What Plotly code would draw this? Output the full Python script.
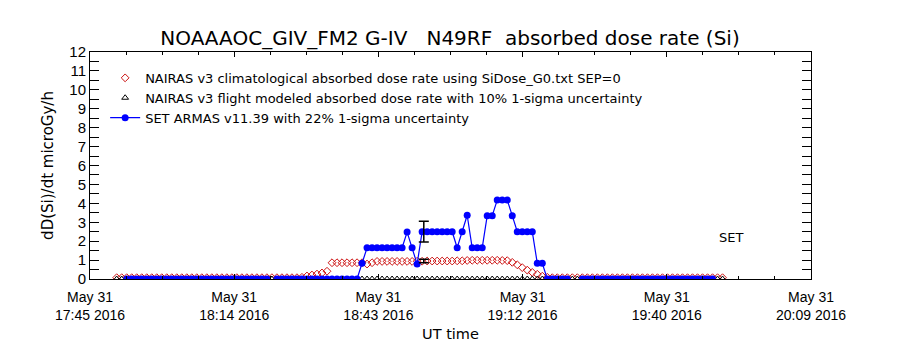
import pandas as pd
import plotly.graph_objects as go

# ---------------- data ----------------
START = "2016-05-31 17:51"
END = "2016-05-31 19:52"
TIMES = pd.date_range(START, END, freq="1min")  # 1-minute samples (122)

NAIRAS_CLIM = [
    0.07, 0.07, 0.07, 0.07, 0.07, 0.07, 0.07, 0.07, 0.07, 0.07,
    0.07, 0.07, 0.07, 0.07, 0.07, 0.07, 0.07, 0.07, 0.07, 0.07,
    0.07, 0.07, 0.07, 0.07, 0.07, 0.07, 0.07, 0.07, 0.07, 0.07,
    0.07, 0.07, 0.07, 0.07, 0.07, 0.07, 0.07,
    0.09, 0.16, 0.21, 0.26, 0.32, 0.41,
    0.86, 0.86, 0.86, 0.86, 0.86, 0.86, 0.86,
    0.79, 0.86,
    0.93, 0.93, 0.93, 0.93, 0.93, 0.93, 0.93, 0.93, 0.94, 0.94,
    0.95, 0.95, 0.95, 0.95, 0.95, 0.95, 0.96, 0.96,
    0.98, 0.99, 0.99, 0.99, 0.99, 0.99, 0.99, 0.98,
    0.97,
    0.88, 0.75, 0.60, 0.47, 0.35, 0.25, 0.15, 0.09,
    0.07, 0.07, 0.07, 0.07, 0.07, 0.07, 0.07, 0.07, 0.07, 0.07,
    0.07, 0.07, 0.07, 0.07, 0.07, 0.07, 0.07, 0.07, 0.07, 0.07,
    0.07, 0.07, 0.07, 0.07, 0.07, 0.07, 0.07, 0.07, 0.07, 0.07,
    0.07, 0.07, 0.07, 0.07, 0.07,
]

NAIRAS_FLIGHT = [
    0, 0, 0, 0, 0, 0, 0, 0, 0, 0, 0, 0, 0, 0, 0, 0, 0, 0, 0, 0,
    0, 0, 0, 0, 0, 0, 0, 0, 0, 0, 0, 0, 0, 0, 0, 0, 0, 0, 0, 0,
    0, 0, 0, 0, 0, 0, 0, 0, 0, 0, 0, 0, 0, 0, 0, 0, 0, 0, 0, 0,
    0, 0, 0, 0, 0, 0, 0, 0, 0, 0, 0, 0, 0, 0, 0, 0, 0, 0, 0, 0,
    0, 0, 0, 0, 0, 0, 0, 0, 0, 0, 0, 0, 0, 0, 0, 0, 0, 0, 0, 0,
    0, 0, 0, 0, 0, 0, 0, 0, 0, 0, 0, 0, 0, 0, 0, 0, 0, 0, 0, 0,
    0, 0,
]

SET_ARMAS = [
    None, None,
    0, 0, 0, 0, 0, 0, 0, 0, 0, 0, 0, 0, 0, 0, 0, 0, 0, 0, 0, 0,
    0, 0, 0, 0, 0, 0, 0, 0, 0,
    None,
    0, 0, 0, 0, 0, 0, 0, 0, 0, 0, 0, 0, 0, 0, 0, 0, 0,
    0.83,
    1.65, 1.65, 1.65, 1.65, 1.65, 1.65, 1.65, 1.65,
    2.48, 1.65, 0.79,
    2.5, 2.5, 2.5, 2.5, 2.5, 2.5, 2.5,
    1.65, 2.5, 3.37,
    1.65, 1.65, 1.65,
    3.35, 3.35,
    4.17, 4.17, 4.17,
    3.35,
    2.5, 2.5, 2.5, 2.5,
    0.83, 0.83,
    0, 0, 0, 0, 0,
    None, None,
    0, 0, 0, 0, 0, 0, 0, 0, 0, 0, 0, 0, 0, 0, 0, 0, 0, 0, 0, 0,
    0, 0, 0, 0, 0, 0, 0,
    None, None,
]

ERR_TIME = ["2016-05-31 18:52:20"]
FLIGHT_ERR_VALUE = [0.95]   # 10% 1-sigma
SET_ERR_VALUE = [2.5]       # 22% 1-sigma

X_RANGE = ["2016-05-31 17:45:40", "2016-05-31 20:09:40"]
X_TICK_LABELS = ["May 31<br>17:45 2016", "May 31<br>18:14 2016", "May 31<br>18:43 2016",
                 "May 31<br>19:12 2016", "May 31<br>19:40 2016", "May 31<br>20:09 2016"]
Y_TICK_LABELS = ["0", "1", "2", "3", "4", "5", "6", "7", "8", "9", "10", "11", "12"]

TITLE = "NOAAAOC_GIV_FM2 G-IV   N49RF  absorbed dose rate (Si)"
LEG1 = "NAIRAS v3 climatological absorbed dose rate using SiDose_G0.txt SEP=0"
LEG2 = "NAIRAS v3 flight modeled absorbed dose rate with 10% 1-sigma uncertainty"
LEG3 = "SET ARMAS v11.39 with 22% 1-sigma uncertainty"

# ---------------- figure ----------------
FONT = "DejaVu Sans, Verdana, sans-serif"
NUMFONT = "Liberation Sans, Arial, sans-serif"
RED = "rgb(205,20,20)"
BLUE = "rgb(0,0,255)"

fig = go.Figure()

fig.add_trace(go.Scatter(
    x=TIMES, y=NAIRAS_CLIM, mode="markers", name=LEG1, legendgroup="a",
    marker=dict(symbol="diamond-open", size=6, color=RED, line=dict(width=1, color=RED)),
))
fig.add_trace(go.Scatter(
    x=TIMES, y=NAIRAS_FLIGHT, mode="markers", name=LEG2, legendgroup="b",
    marker=dict(symbol="triangle-up-open", size=6, color="black", line=dict(width=1, color="black")),
))
fig.add_trace(go.Scatter(
    x=TIMES, y=SET_ARMAS, mode="lines+markers", name=LEG3, legendgroup="c",
    line=dict(color=BLUE, width=1.2),
    marker=dict(symbol="circle", size=7, color=BLUE),
))
fig.add_trace(go.Scatter(
    x=ERR_TIME, y=FLIGHT_ERR_VALUE, mode="markers", showlegend=False,
    marker=dict(size=1, color="rgba(0,0,0,0)"),
    error_y=dict(type="percent", value=10, color="black", thickness=1.5, width=5),
))
fig.add_trace(go.Scatter(
    x=ERR_TIME, y=SET_ERR_VALUE, mode="markers", showlegend=False,
    marker=dict(size=1, color="rgba(0,0,0,0)"),
    error_y=dict(type="percent", value=22, color="black", thickness=1.5, width=5),
))

t0 = pd.Timestamp(X_RANGE[0])
major = [t0 + k * pd.Timedelta(minutes=28.8) for k in range(6)]
minor = [t0 + k * pd.Timedelta(minutes=7.2) for k in range(21)]
yvals = [k * 0.5 for k in range(25)]
ytext = [Y_TICK_LABELS[int(v)] if v == int(v) else "" for v in yvals]

fig.update_layout(
    width=900, height=350,
    margin=dict(l=90, r=89, t=52, b=71),
    paper_bgcolor="white", plot_bgcolor="white",
    font=dict(family=FONT, color="black", size=14),
    title=dict(text=TITLE, x=0.5, xanchor="center", y=1 - 38 / 350, yanchor="middle",
               font=dict(size=20, family=FONT, color="black")),
    showlegend=True,
    legend=dict(x=0.021, y=0.952, xanchor="left", yanchor="top",
                bgcolor="rgba(0,0,0,0)", borderwidth=0,
                font=dict(size=13, family=FONT, color="black"),
                itemwidth=30, traceorder="grouped", tracegroupgap=0),
    xaxis=dict(
        type="date", range=X_RANGE,
        tickmode="array", tickvals=major, ticktext=X_TICK_LABELS,
        ticks="inside", ticklen=5, tickcolor="black", tickwidth=1,
        minor=dict(tickmode="array", tickvals=minor, ticks="inside", ticklen=3,
                   tickcolor="black", showgrid=False),
        showline=True, linecolor="black", linewidth=1, mirror="allticks",
        showgrid=False, zeroline=False,
        tickfont=dict(size=14, family=NUMFONT),
        ticklabelstandoff=5,
        title=dict(text="UT time", font=dict(size=14.5, family=FONT), standoff=6),
    ),
    yaxis=dict(
        range=[0, 12],
        tickmode="array", tickvals=yvals, ticktext=ytext,
        ticks="inside", ticklen=9, tickcolor="black", tickwidth=1,
        showline=True, linecolor="black", linewidth=1, mirror="allticks",
        showgrid=False, zeroline=False,
        tickfont=dict(size=15, family=NUMFONT),
        title=dict(text="dD(Si)/dt microGy/h", font=dict(size=15, family=FONT), standoff=12),
    ),
    annotations=[dict(x="2016-05-31 19:53:40", y=2.22, xref="x", yref="y",
                      text="SET", showarrow=False, font=dict(size=13, family=FONT))],
)

fig.write_html("out.html")
